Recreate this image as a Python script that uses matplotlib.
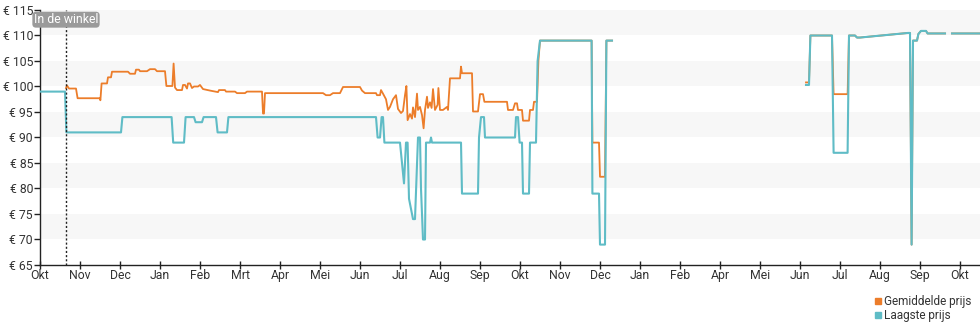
import numpy as np
import matplotlib
matplotlib.use("Agg")
import matplotlib.pyplot as plt
from matplotlib.lines import Line2D

plt.rcParams['font.family'] = ['Roboto', 'DejaVu Sans']

# x positions are in months since the first "Okt" tick
laagste_x = [0.0, 0.625, 0.66, 2.025, 2.06, 3.29, 3.33, 3.6, 3.64, 3.85, 3.89, 4.05, 4.09,
             4.4, 4.44, 4.675, 4.71, 8.4, 8.44, 8.5, 8.54, 8.575, 8.61, 9.0, 9.05, 9.1,
             9.15, 9.19, 9.225, 9.3, 9.325, 9.375, 9.45, 9.5, 9.525, 9.575, 9.625, 9.65,
             9.75, 9.775, 9.8, 10.525, 10.55, 10.95, 10.975, 11.025, 11.1, 11.125, 11.875,
             11.9, 11.95, 11.99, 12.05, 12.075, 12.225, 12.25, 12.4, 12.44, 12.5, 13.79,
             13.81, 13.975, 14.0, 14.125, 14.16, 14.3, 14.31,
             19.14, 19.15, 19.225, 19.26, 19.8, 19.84, 20.19, 20.225, 20.375, 20.425,
             20.5, 21.7, 21.75, 21.79, 21.825, 21.925, 21.96, 22.025, 22.15, 22.19,
             22.625, 22.63, 22.79, 22.8, 23.5]
laagste = [99, 99, 91, 91, 94, 94, 89, 89, 94, 94, 93, 93, 94,
           94, 91, 91, 94, 94, 90, 90, 94, 94, 89, 89, 85, 81,
           89, 89, 78, 75, 74, 74, 90, 90, 80, 70, 70, 89,
           89, 90, 89, 89, 79, 79, 90, 94, 94, 90, 90,
           94, 94, 89, 89, 79, 79, 89, 89, 105, 109, 109,
           79, 79, 69, 69, 109, 109, np.nan,
           np.nan, 100.3, 100.3, 110, 110, 87, 87, 110, 110, 109.6,
           109.6, 110.5, 110.5, 69, 109, 109, 110.3, 110.9, 110.9, 110.4,
           110.4, np.nan, np.nan, 110.4, 110.4]

gemiddeld_x = [0.65, 0.675, 0.725, 0.9, 0.94, 1.49, 1.51, 1.54, 1.675, 1.7, 1.775, 1.8,
               2.2, 2.25, 2.375, 2.4, 2.475, 2.5, 2.675, 2.75, 2.875, 2.925, 3.125, 3.16,
               3.31, 3.34, 3.375, 3.425, 3.55, 3.575, 3.625, 3.675, 3.7, 3.75, 3.8, 3.85,
               3.95, 4.0, 4.075, 4.25, 4.45, 4.475, 4.625, 4.65, 4.875, 4.925, 5.125,
               5.175, 5.55, 5.575, 5.6, 5.625, 7.075, 7.15, 7.25, 7.325, 7.5, 7.575, 8.0,
               8.05, 8.125, 8.4, 8.425, 8.5, 8.525, 8.575, 8.65, 8.7, 8.75, 8.825, 8.9,
               8.95, 9.025, 9.075, 9.125, 9.16, 9.19, 9.25, 9.3, 9.325, 9.375, 9.425,
               9.45, 9.5, 9.55, 9.59, 9.625, 9.675, 9.7, 9.75, 9.79, 9.825, 9.875, 9.94,
               9.96, 10.0, 10.075, 10.175, 10.2, 10.25, 10.5, 10.525, 10.55, 10.8, 10.825,
               10.95, 11.0, 11.075, 11.11, 11.675, 11.7, 11.825, 11.875, 11.925, 11.95,
               12.05, 12.075, 12.225, 12.25, 12.325, 12.35, 12.425, 12.46, 12.5, 13.79,
               13.81, 13.975, 14.0, 14.125, 14.16, 14.3, 14.31,
               19.14, 19.15, 19.225, 19.26, 19.8, 19.84, 20.19, 20.225, 20.375, 20.425,
               20.5, 21.7, 21.75, 21.79, 21.825, 21.925, 21.96, 22.025, 22.15, 22.19,
               22.625, 22.63, 22.79, 22.8, 23.5]
gemiddeld = [99.7, 100.2, 99.6, 99.6, 97.7, 97.7, 97.3, 100.6, 100.6, 101.8, 101.8, 102.9,
             102.9, 102.5, 102.5, 103.3, 103.3, 103, 103, 103.4, 103.4, 103, 103, 100.1,
             100.1, 104.5, 99.8, 99.3, 99.3, 100.3, 100.3, 99.6, 100.6, 100.6, 99.7, 100,
             100, 100.3, 99.5, 99.2, 98.9, 99.3, 99.3, 99, 99, 98.7, 98.7,
             99, 99, 94.7, 94.7, 98.7, 98.7, 98.3, 98.3, 98.7, 98.7, 99.9, 99.9,
             99.2, 98.7, 98.7, 98.3, 98.3, 99.3, 98.6, 97.5, 95.4, 96, 97.5, 98.3,
             95.6, 94.8, 95.2, 98.3, 100.1, 93.4, 94.6, 93.7, 95.9, 94, 98.6,
             95.4, 96, 94.4, 91.8, 95.4, 98, 95.8, 96.9, 95.8, 99.5, 95.4, 96.4,
             99.7, 95.4, 95.4, 96, 95.4, 101.6, 101.6, 103.9, 102.6, 102.6, 95.1,
             95.1, 98.5, 98.5, 97, 97, 95.4, 95.4, 96.7, 96.7, 95.4,
             95.4, 93.3, 93.3, 95.4, 95.4, 97, 97, 105, 109, 109,
             89, 89, 82.3, 82.3, 109, 109, np.nan,
             np.nan, 100.8, 100.8, 110, 110, 98.5, 98.5, 110, 110, 109.6,
             109.6, 110.5, 110.5, 69, 109, 109, 110.3, 110.9, 110.9, 110.4,
             110.4, np.nan, np.nan, 110.4, 110.4]

maand_labels = ['Okt', 'Nov', 'Dec', 'Jan', 'Feb', 'Mrt', 'Apr', 'Mei', 'Jun', 'Jul', 'Aug',
                'Sep', 'Okt', 'Nov', 'Dec', 'Jan', 'Feb', 'Apr', 'Mei', 'Jun', 'Jul', 'Aug',
                'Sep', 'Okt']
prijs_ticks = [65, 70, 75, 80, 85, 90, 95, 100, 105, 110, 115]
winkel_x = 0.65

oranje = '#ec7d2a'
blauw = '#5fbcc6'

fig = plt.figure(figsize=(9.8, 3.25), dpi=100)
ax = fig.add_axes([40 / 980, 1 - 265 / 325, 940 / 980, 255 / 325])

ax.set_xlim(0, 23.5)
ax.set_ylim(65, 115)

# light alternating bands
for lo in range(70, 115, 10):
    ax.axhspan(lo, lo + 5, color='#f7f7f7', lw=0, zorder=0)

ax.plot(gemiddeld_x, gemiddeld, color=oranje, lw=1.3, zorder=2)
ax.plot(laagste_x, laagste, color=blauw, lw=1.5, zorder=3)

ax.axvline(winkel_x, color='#222222', lw=1, ls=(0, (1.5, 1.5)), zorder=4)
ax.text(winkel_x, 113.1, 'In de winkel', ha='center', va='center', fontsize=8.8,
        color='white', zorder=5, clip_on=False,
        bbox=dict(boxstyle='round,pad=0.12,rounding_size=0.3', fc='#9a9a9a', ec='none'))

for s in ['top', 'right']:
    ax.spines[s].set_visible(False)
for s in ['left', 'bottom']:
    ax.spines[s].set_color('#222222')
    ax.spines[s].set_linewidth(1)

ax.set_yticks(prijs_ticks)
ax.set_yticklabels(['€ %d' % p for p in prijs_ticks])
ax.set_xticks(range(len(maand_labels)))
ax.set_xticklabels(maand_labels)
ax.tick_params(axis='y', length=4, width=1, color='#222222', labelsize=8.8,
               labelcolor='#333333', pad=1)
ax.tick_params(axis='x', direction='inout', length=6, width=1, color='#222222',
               labelsize=8.8, labelcolor='#333333', pad=0)

handles = [Line2D([], [], marker='s', ls='none', color=oranje, markersize=5),
           Line2D([], [], marker='s', ls='none', color=blauw, markersize=5)]
fig.legend(handles, ['Gemiddelde prijs', 'Laagste prijs'], loc='upper left',
           bbox_to_anchor=(869 / 980, 1 - 289 / 325), frameon=False, fontsize=8.5,
           handlelength=0.6, handletextpad=0.2, labelspacing=0.1, borderpad=0,
           labelcolor='#333333')

fig.savefig('out.png', dpi=100)
